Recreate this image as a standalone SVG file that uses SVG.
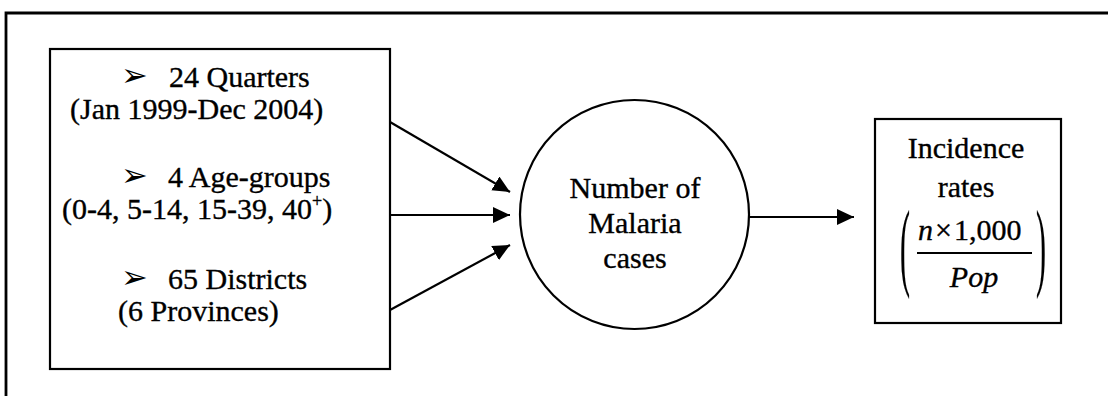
<svg xmlns="http://www.w3.org/2000/svg" width="1108" height="396" viewBox="0 0 1108 396">
<style>
.t{font-family:"Liberation Serif","Times New Roman",serif;font-size:30px;fill:#000;stroke:#000;stroke-width:0.35}
.c{text-anchor:middle}
.i{font-style:italic}
.b{font-family:"DejaVu Sans",sans-serif;font-size:32px;fill:#000}
.shape{fill:#fff;stroke:#000;stroke-width:2.2}
.edge{stroke:#000;stroke-width:2.2;fill:none;marker-end:url(#ah)}
</style>
<defs>
<marker id="ah" markerUnits="userSpaceOnUse" markerWidth="18" markerHeight="18" refX="17" refY="8" orient="auto">
<path d="M0,0 L17,8 L0,16 z" fill="#000"/>
</marker>
</defs>
<rect width="1108" height="396" fill="#fff"/>
<g id="frame">
<path d="M6,396 L6,13 L1108,13" fill="none" stroke="#000" stroke-width="2.8"/>
</g>
<g id="inputs">
<rect class="shape" x="50" y="49" width="340" height="320"/>
<text class="b" x="121" y="86">➢</text>
<text class="t" x="169" y="87">24 Quarters</text>
<text class="t" x="70" y="119">(Jan 1999-Dec 2004)</text>
<text class="b" x="121" y="186">➢</text>
<text class="t" x="168" y="187">4 Age-groups</text>
<text class="t" x="62" y="219">(0-4, 5-14, 15-39, 40<tspan dy="-12" font-size="18">+</tspan><tspan dy="12">)</tspan></text>
<text class="b" x="121" y="288">➢</text>
<text class="t" x="168" y="289">65 Districts</text>
<text class="t" x="118" y="321">(6 Provinces)</text>
</g>
<g id="cases">
<circle class="shape" cx="634.5" cy="214.5" r="114.5"/>
<text class="t c" x="635" y="198">Number of</text>
<text class="t c" x="635" y="233">Malaria</text>
<text class="t c" x="635" y="268">cases</text>
</g>
<g id="rates">
<rect class="shape" x="875" y="119" width="186" height="204"/>
<text class="t c" x="966" y="158">Incidence</text>
<text class="t c" x="966" y="197">rates</text>
<text class="t" x="918" y="240"><tspan class="i">n</tspan><tspan dx="2">×</tspan><tspan dx="2">1,000</tspan></text>
<line x1="917" y1="253" x2="1032" y2="253" stroke="#000" stroke-width="2"/>
<text class="t i c" x="974" y="287">Pop</text>
<text class="t" transform="translate(900,278) scale(1,3.27)" style="stroke-width:0.1">(</text>
<text class="t" transform="translate(1036,278) scale(1,3.27)" style="stroke-width:0.1">)</text>
</g>
<g id="connectors">
<line class="edge" x1="390" y1="122" x2="510" y2="192"/>
<line class="edge" x1="390" y1="215" x2="510" y2="215"/>
<line class="edge" x1="390" y1="310" x2="510" y2="245"/>
<line class="edge" x1="749" y1="217" x2="854" y2="217"/>
</g>
</svg>
